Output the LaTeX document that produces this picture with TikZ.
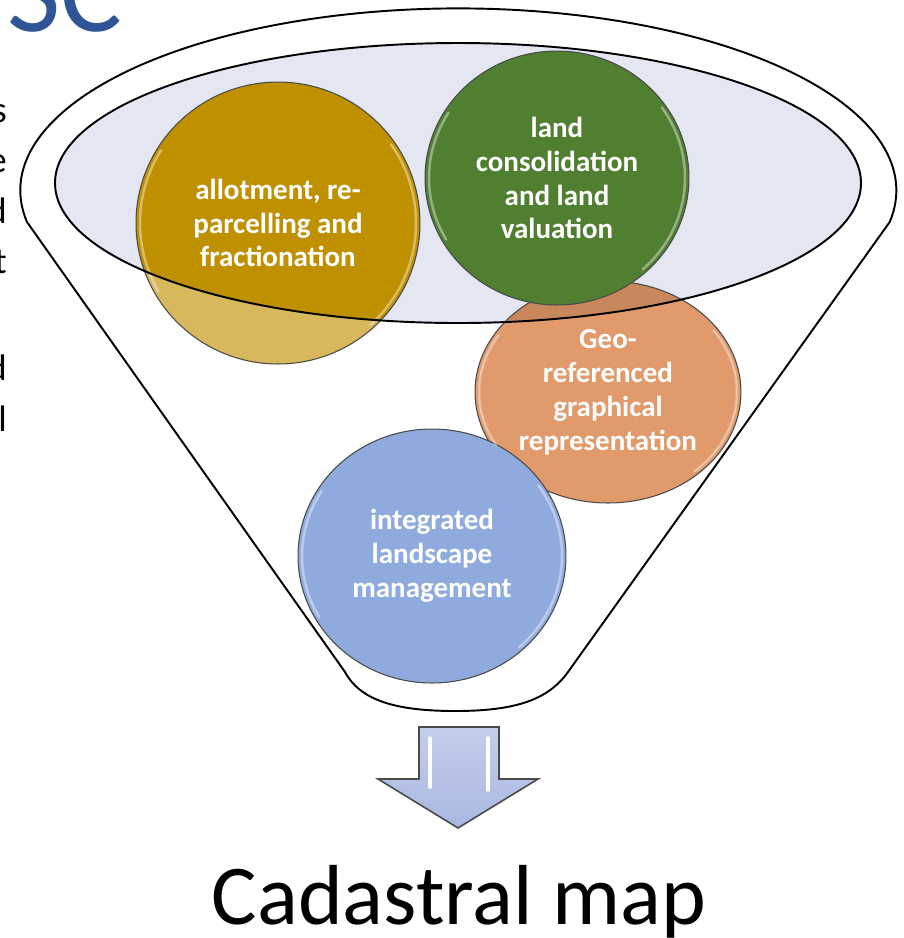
\documentclass[tikz,border=0pt]{standalone}
\usepackage{fontspec}
\setmainfont{Carlito}
\usepackage{tikz}
\usetikzlibrary{shapes.geometric}

\definecolor{lav}{HTML}{E4E7F2}
\definecolor{golddark}{HTML}{BF9000}
\definecolor{goldlight}{HTML}{D7B85C}
\definecolor{landgreen}{HTML}{507F31}
\definecolor{orangelight}{HTML}{E09A6B}
\definecolor{orangedark}{HTML}{C8875C}
\definecolor{landblue}{HTML}{8FAADC}
\definecolor{titleblue}{HTML}{2F5597}
\definecolor{rimgray}{HTML}{4A4A4A}
\definecolor{arrowtop}{HTML}{C3CEEC}
\definecolor{arrowbot}{HTML}{A9B8E0}

\tikzset{
  disc/.style={ellipse, draw=rimgray, line width=0.6pt, inner sep=0pt,
    text=white, align=center, font=\bfseries\fontsize{16.5}{19.3}\selectfont},
  darkin/.style={path picture={\fill[#1] (ec) ellipse [x radius=403, y radius=140];}},
  funnel/.style={draw=black, line width=1.1pt, fill=white},
  gloss/.style={white, opacity=.4, line width=1.4pt, line cap=round},
  shine/.style={white, line width=2pt, line cap=round}
}

\begin{document}
\begin{tikzpicture}[x=0.02cm, y=-0.02cm]
\useasboundingbox (0,0) rectangle (904,938);
\clip (0,0) rectangle (904,938);

% the funnel
\draw[funnel] (345,672) -- (27,222) arc[start angle=170, end angle=370, x radius=438, y radius=182]
  -- (568,672) .. controls (548,700) and (515,711) .. (455,711) .. controls (395,711) and (360,700) .. cycle;
\coordinate (ec) at (458,183);
\fill[lav] (ec) ellipse [x radius=403, y radius=140];

% the four topics
\node[disc, fill=orangelight, darkin=orangedark, minimum width=5.32cm, minimum height=4.44cm] (geo) at (608,392) {Geo-\\referenced\\graphical\\representation};
\node[disc, fill=landblue, minimum width=5.36cm, minimum height=5.08cm] (ilm) at (432,556) {integrated\\landscape\\management};
\node[disc, fill=goldlight, darkin=golddark, minimum width=5.68cm, minimum height=5.64cm] (allot) at (278,223) {allotment, re-\\parcelling and\\fractionation};
\node[disc, fill=landgreen, minimum width=5.28cm, minimum height=5.08cm] (lcv) at (557,178) {land\\consolidation\\and land\\valuation};

\foreach \n/\rx/\ry in {geo/133/111, ilm/134/127, allot/142/141, lcv/132/127}{
  \draw[gloss] ([shift={(150:{\rx-4} and {\ry-4})}]\n.center) arc[start angle=150, end angle=212, x radius=\rx-4, y radius=\ry-4];
  \draw[gloss] ([shift={(-35:{\rx-4} and {\ry-4})}]\n.center) arc[start angle=-35, end angle=48, x radius=\rx-4, y radius=\ry-4];
}

\draw[line width=1.1pt] (ec) ellipse [x radius=403, y radius=140];

% arrow to the result
\draw[draw=rimgray, line width=0.9pt, top color=arrowtop, bottom color=arrowbot]
  (419,727) -- (499,727) -- (499,779) -- (538,779) -- (458,828) -- (378,779) -- (419,779) -- cycle;
\draw[shine] (430,738) -- (430,787);
\draw[shine] (488,738) -- (488,790);

\node[anchor=base, font=\fontsize{48.5}{58}\selectfont] (result) at (459,924) {Cadastral map};

% cut-off slide text
\node[anchor=base west, text=titleblue, font=\fontsize{66}{70}\selectfont] (title) at (1,31) {SC};
\foreach \ch/\yy in {s/122, e/172, d/223, t/273, d/380, l/431}
  \node[anchor=base east, font=\fontsize{21}{25}\selectfont] (cut\yy) at (13,\yy) {\ch};
\end{tikzpicture}
\end{document}
